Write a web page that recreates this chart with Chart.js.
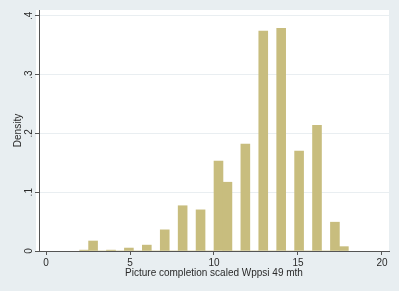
<!DOCTYPE html>
<html>
<head>
<meta charset="utf-8">
<script src="https://cdn.jsdelivr.net/npm/chart.js@4"></script>
<style>
  html, body { margin: 0; padding: 0; background: #e8eef1; }
  canvas { display: block; }
</style>
</head>
<body>
<canvas id="hist" width="399" height="291"></canvas>
<script>
// bin centres (bin width ~0.533, from 2 to 18) and densities
const binCenters = [2.267, 2.8, 3.333, 3.867, 4.4, 4.933, 5.467, 6.0, 6.533, 7.067,
                    7.6, 8.133, 8.667, 9.2, 9.733, 10.267, 10.8, 11.333, 11.867, 12.4,
                    12.933, 13.467, 14.0, 14.533, 15.067, 15.6, 16.133, 16.667, 17.2, 17.733];
const densities = [0.0015, 0.017, 0, 0.0015, 0, 0.005, 0, 0.010, 0, 0.036,
                   0, 0.077, 0, 0.070, 0, 0.153, 0.117, 0, 0.182, 0,
                   0.374, 0, 0.379, 0, 0.170, 0, 0.214, 0, 0.049, 0.0074];
const xTicks = [0, 5, 10, 15, 20];
const yTicks = [0, 0.1, 0.2, 0.3, 0.4];
const yTickLabels = ["0", ".1", ".2", ".3", ".4"];

const textColor = "#2a2a2a";
const font = { family: "'Liberation Sans', Arial, sans-serif", size: 10 };

// white plot region + rotated y tick labels (Stata style)
const stataLook = {
    id: "stataLook",
    beforeDraw(chart){
        const a = chart.chartArea, ctx = chart.ctx;
        ctx.save();
        ctx.fillStyle = "#ffffff";
        ctx.fillRect(a.left - 3, a.top, a.right - a.left + 3, a.bottom - a.top);
        ctx.restore();
    },
    afterDraw(chart){
        const y = chart.scales.y, ctx = chart.ctx;
        ctx.save();
        ctx.fillStyle = textColor;
        ctx.font = font.size + "px " + font.family;
        ctx.textAlign = "center";
        ctx.textBaseline = "middle";
        yTicks.forEach((v, i) => {
            ctx.save();
            ctx.translate(29, y.getPixelForValue(v));
            ctx.rotate(-Math.PI / 2);
            ctx.fillText(yTickLabels[i], 0, 0);
            ctx.restore();
        });
        ctx.restore();
    }
};

new Chart(document.getElementById("hist").getContext("2d"), {
    type: "bar",
    data: {
        datasets: [{
            data: binCenters.map((x, i) => ({ x: x, y: densities[i] })),
            backgroundColor: "#c8bd7e",
            borderWidth: 0,
            barPercentage: 1,
            categoryPercentage: 1
        }]
    },
    options: {
        responsive: false,
        animation: false,
        layout: { padding: { left: 0, right: 10, top: 10, bottom: 0 } },
        plugins: { legend: { display: false }, tooltip: { enabled: false } },
        scales: {
            x: {
                type: "linear",
                offset: false,
                min: -0.42,
                max: 20.42,
                afterFit: s => { s.height = 40; },
                afterBuildTicks: s => { s.ticks = xTicks.map(v => ({ value: v })); },
                grid: { offset: false, drawOnChartArea: false, tickLength: 4, tickColor: "#555" },
                border: { color: "#555", width: 1 },
                ticks: { color: textColor, font: font, padding: 2, maxRotation: 0 },
                title: { display: true, text: "Picture completion scaled Wppsi 49 mth",
                         color: textColor, font: font, padding: { top: 0, bottom: 12 } }
            },
            y: {
                min: 0,
                max: 0.41,
                afterFit: s => { s.width = 39; },
                afterBuildTicks: s => { s.ticks = yTicks.map(v => ({ value: v })); },
                grid: { color: "#e9eef1", tickLength: 4, tickColor: "#555" },
                border: { color: "#555", width: 1 },
                ticks: { display: false },
                title: { display: true, text: "Density", color: textColor, font: font,
                         padding: { top: 12, bottom: 0 } }
            }
        }
    },
    plugins: [stataLook]
});
</script>
</body>
</html>
